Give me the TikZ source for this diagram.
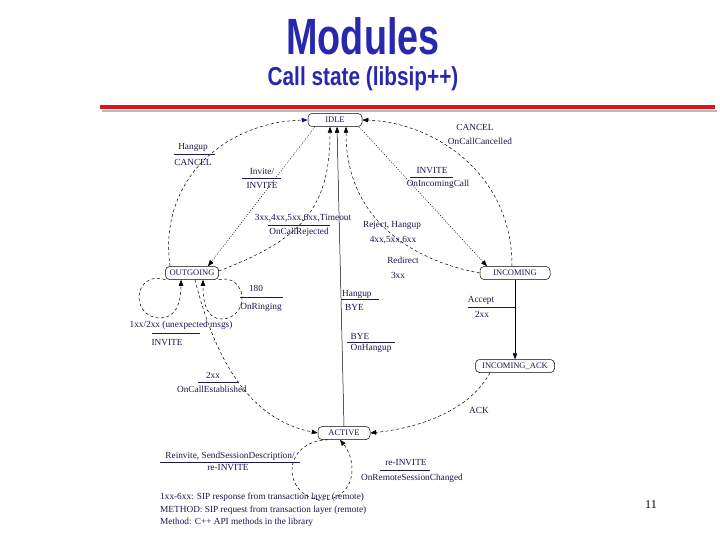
\documentclass[tikz,border=0pt]{standalone}
\usepackage{fontspec}
\setmainfont{Liberation Serif}
\newfontfamily\titlefont[FakeStretch=0.74]{Liberation Sans}
\newfontfamily\subfont[FakeStretch=0.8]{Liberation Sans}
\usetikzlibrary{arrows.meta}
\definecolor{titleblue}{RGB}{40,40,175}
\definecolor{ink}{RGB}{25,25,75}
\definecolor{navyarrow}{RGB}{20,20,120}
\definecolor{barred}{RGB}{225,20,20}
\begin{document}
\begin{tikzpicture}[x=1pt,y=-1pt,
  state/.style={draw=black, line width=0.5pt, rounded corners=4pt, inner sep=0pt, minimum height=13pt, font=\fontsize{8.5}{9}\selectfont, text=ink},
  lbl/.style={font=\fontsize{9.3}{10}\selectfont, text=ink, inner sep=0pt},
  conn/.style={line width=0.5pt, draw=black, -{Triangle[length=6pt,width=4.5pt]}},
  dashline/.style={conn, dash pattern=on 3pt off 2.5pt},
  dotline/.style={conn, dash pattern=on 1pt off 1.5pt},
  fracbar/.style={line width=0.5pt, draw=ink}
]
\useasboundingbox (0,0) rectangle (720,540);
\fill[white] (0,0) rectangle (720,540);

% title
\node[font=\titlefont\bfseries\fontsize{51}{51}\selectfont, text=titleblue, anchor=base, inner sep=0pt] (title) at (363,55) {Modules};
\node[font=\subfont\bfseries\fontsize{26}{26}\selectfont, text=titleblue, anchor=base, inner sep=0pt] (subtitle) at (363,86) {Call state (libsip++)};
\draw[line width=2pt, gray!55] (102,111) -- (717,111);
\draw[line width=4pt, barred] (100,107.5) -- (715,107.5);

% states
\node[state, minimum width=54pt] (idle) at (335,120) {IDLE};
\node[state, minimum width=53pt] (out) at (192,273) {OUTGOING};
\node[state, minimum width=70pt] (inc) at (515,273) {INCOMING\hspace{10pt}};
\node[state, minimum width=79pt] (ack) at (515,366) {INCOMING\_ACK};
\node[state, minimum width=52pt] (act) at (344,433) {ACTIVE};

% connectors
\draw[dashline, -{Triangle[length=6pt,width=4.5pt,color=navyarrow]}] ([xshift=-22pt]out.north) .. controls (158,180) and (225,122) .. (idle.west);
\draw[dotline] ([xshift=-20pt]idle.south) -- ([xshift=16pt]out.north);
\draw[dashline] ([yshift=2pt]out.east) .. controls (300,240) and (330,210) .. ([xshift=-5pt]idle.south);
\draw[conn] (act.north) -- ([xshift=2pt]idle.south);
\draw[dashline] (inc.west) .. controls (420,262) and (346,225) .. ([xshift=11pt]idle.south);
\draw[dotline] ([xshift=24pt]idle.south) -- ([xshift=-28pt]inc.north);
\draw[dashline] ([xshift=-3pt]inc.north) .. controls (512,170) and (430,122) .. (idle.east);
\draw[conn] (inc.south) -- (ack.north);
\draw[dashline] ([xshift=-25pt]ack.south) .. controls (470,410) and (420,428) .. (act.east);
\draw[dashline] ([xshift=3pt]out.south) .. controls (215,360) and (250,420) .. (act.west);
% self-loops of OUTGOING
\draw[dashline] (out.south west) .. controls (150,274) and (139,285) .. (139,297)
   .. controls (139,309) and (148,318) .. (160,318)
   .. controls (174,318) and (181,306) .. ([xshift=-11pt]out.south);
\draw[dashline] (out.south east) .. controls (232,276) and (242,286) .. (242,298)
   .. controls (242,310) and (233,319) .. (222,319)
   .. controls (208,319) and (203,306) .. ([xshift=11pt]out.south);
% self-loop of ACTIVE
\draw[dashline] ([xshift=-16pt]act.south) .. controls (305,440) and (292,455) .. (292,470)
   .. controls (292,487) and (306,500) .. (322,500)
   .. controls (340,500) and (352,487) .. (352,470)
   .. controls (352,458) and (348,450) .. ([xshift=-4pt]act.south);

% labels
\node[lbl] (l1a) at (193,147) {Hangup};
\node[lbl] (l1b) at (193,162) {CANCEL};
\draw[fracbar] (174,154) -- (215,154);

\node[lbl] (l2a) at (262,171) {Invite/};
\node[lbl] (l2b) at (262,186) {INVITE};
\draw[fracbar] (242,178) -- (281,178);

\node[lbl] (l3a) at (303,218) {3xx,4xx,5xx,6xx,Timeout};
\node[lbl] (l3b) at (299,232) {OnCallRejected};
\draw[fracbar] (268,225) -- (330,225);

\node[lbl] (l4a) at (392,225) {Reject, Hangup};
\node[lbl] (l4b) at (393,240) {4xx,5xx,6xx};

\node[lbl] (l5a) at (475,127) {CANCEL};
\node[lbl] (l5b) at (480,141) {OnCallCancelled};

\node[lbl] (l6a) at (432,171) {INVITE};
\node[lbl] (l6b) at (438,184) {OnIncomingCall};
\draw[fracbar] (410,177) -- (453,177);

\node[lbl] (l7a) at (403,260) {Redirect};
\node[lbl] (l7b) at (398,275) {3xx};

\node[lbl, anchor=west] (l8a) at (342,294) {Hangup};
\node[lbl, anchor=west] (l8b) at (345,307) {BYE};
\draw[fracbar] (341,299) -- (379,299);

\node[lbl] (l9a) at (360,336) {BYE};
\node[lbl] (l9b) at (371,348) {OnHangup};
\draw[fracbar] (347,342) -- (395,342);

\node[lbl] (l10a) at (256,288) {180};
\node[lbl] (l10b) at (261,307) {OnRinging};
\draw[fracbar] (240,297) -- (283,297);

\node[lbl] (l11a) at (181,325) {1xx/2xx (unexpected msgs)};
\node[lbl] (l11b) at (167,343) {INVITE};
\draw[fracbar] (152,333) -- (200,333);

\node[lbl] (l12a) at (213,375) {2xx};
\node[lbl] (l12b) at (212,389) {OnCallEstablished};
\draw[fracbar] (198,382) -- (238,382);

\node[lbl] (l13a) at (481,300) {Accept};
\node[lbl] (l13b) at (482,314) {2xx};
\draw[fracbar] (468,307) -- (515,307);

\node[lbl] (l14) at (479,410) {ACK};

\node[lbl] (l15a) at (230,456) {Reinvite, SendSessionDescription/};
\node[lbl] (l15b) at (228,468) {re-INVITE};
\draw[fracbar] (160,462) -- (300,462);

\node[lbl] (l16a) at (406,463) {re-INVITE};
\node[lbl] (l16b) at (412,478) {OnRemoteSessionChanged};
\draw[fracbar] (380,470) -- (430,470);

% footer
\node[lbl, anchor=west] (f1) at (160,497) {1xx-6xx: SIP response from transaction layer (remote)};
\node[lbl, anchor=west] (f2) at (160,510) {METHOD: SIP request from transaction layer (remote)};
\node[lbl, anchor=west] (f3) at (160,522) {Method: C++ API methods in the library};
\node[font=\fontsize{12}{12}\selectfont, text=black, inner sep=0pt] (pg) at (651,505) {11};
\end{tikzpicture}
\end{document}
